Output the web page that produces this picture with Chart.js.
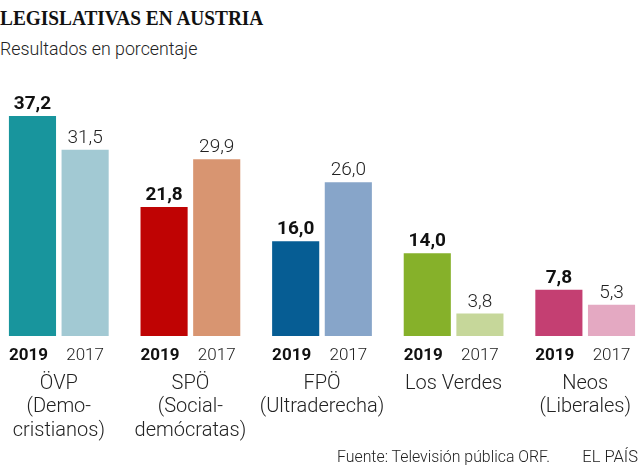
<!DOCTYPE html>
<html>
<head>
<meta charset="utf-8">
<script src="https://cdn.jsdelivr.net/npm/chart.js@4.4.1/dist/chart.umd.min.js"></script>
<style>
    body { margin: 0; background: #fff; width: 640px; height: 471px; overflow: hidden; position: relative; }
    .txt { position: absolute; white-space: nowrap; line-height: 1; color: #222; }
    #title { left: 0; top: 8px; font-family: "Liberation Serif", serif; font-weight: bold; font-size: 21px; color: #111; transform-origin: left top; }
    #subtitle { left: 0; top: 40px; font-family: Roboto, sans-serif; font-size: 17.8px; font-weight: 300; }
    #source { left: 337px; top: 449px; font-family: Roboto, sans-serif; font-size: 16px; font-weight: 300; transform-origin: left top; }
    #brand { right: 2px; top: 448.5px; font-family: Roboto, sans-serif; font-size: 16.5px; font-weight: 300; }
    #chart-wrap { position: absolute; left: -7px; top: 0; width: 658px; height: 471px; }
</style>
</head>
<body>
<div id="title" class="txt">LEGISLATIVAS EN AUSTRIA</div>
<div id="subtitle" class="txt">Resultados en porcentaje</div>
<div id="chart-wrap"><canvas id="bar-chart"></canvas></div>
<div id="source" class="txt">Fuente: Televisión pública ORF.</div>
<div id="brand" class="txt">EL PAÍS</div>

<script>
// Parties (category axis) and their label lines under the bars
const parties = ['ÖVP', 'SPÖ', 'FPÖ', 'Los Verdes', 'Neos'];
const partyLines = [
    ['ÖVP', '(Demo-', 'cristianos)'],
    ['SPÖ', '(Social-', 'demócratas)'],
    ['FPÖ', '(Ultraderecha)'],
    ['Los Verdes'],
    ['Neos', '(Liberales)']
];

// Vote share in percent
const results2019 = [37.2, 21.8, 16.0, 14.0, 7.8];
const results2017 = [31.5, 29.9, 26.0, 3.8, 5.3];

const colors2019 = ['#18959d', '#bf0303', '#065d94', '#86b12a', '#c43f72'];
const colors2017 = ['#a2c9d3', '#d89571', '#87a5c9', '#c6d79a', '#e4a9c2'];

const yearLabels = ['2019', '2017'];

function fmt(v) {
    return v.toFixed(1).replace('.', ',');
}

// Fit the condensed title to its width in the picture
const title = document.getElementById('title');
title.style.transform = 'scaleX(' + (263 / title.offsetWidth) + ')';
const source = document.getElementById('source');
source.style.transform = 'scaleX(' + (213 / source.offsetWidth) + ')';

// Draws value labels above bars, years and party names below
const labelPlugin = {
    id: 'labels',
    afterDatasetsDraw(chart) {
        const ctx = chart.ctx;
        const bottom = chart.chartArea.bottom;
        ctx.save();
        ctx.textBaseline = 'alphabetic';

        chart.data.datasets.forEach((ds, i) => {
            const meta = chart.getDatasetMeta(i);
            const bold = i === 0;
            meta.data.forEach((bar, j) => {
                ctx.textAlign = 'center';
                ctx.fillStyle = bold ? '#111' : '#222';
                ctx.font = (bold ? 'bold ' : '300 ') + '19px Roboto, sans-serif';
                ctx.fillText(fmt(ds.data[j]), bar.x, bar.y - 7);

                ctx.font = (bold ? 'bold ' : '300 ') + '17px Roboto, sans-serif';
                if (bold) {
                    ctx.textAlign = 'left';
                    ctx.fillText(yearLabels[i], bar.x - bar.width / 2, bottom + 23.5);
                } else {
                    ctx.fillText(yearLabels[i], bar.x, bottom + 23.5);
                }
            });
        });

        ctx.textAlign = 'center';
        ctx.fillStyle = '#222';
        ctx.font = '300 20px Roboto, sans-serif';
        partyLines.forEach((lines, j) => {
            const x = chart.scales.x.getPixelForValue(j);
            lines.forEach((line, k) => {
                ctx.fillText(line, x, 389 + k * 23.3);
            });
        });
        ctx.restore();
    }
};

const ctx = document.getElementById('bar-chart').getContext('2d');
const barChart = new Chart(ctx, {
    type: 'bar',
    data: {
        labels: parties,
        datasets: [{
            label: '2019',
            data: results2019,
            backgroundColor: colors2019,
            borderWidth: 0
        }, {
            label: '2017',
            data: results2017,
            backgroundColor: colors2017,
            borderWidth: 0
        }]
    },
    options: {
        responsive: true,
        maintainAspectRatio: false,
        animation: false,
        layout: {
            padding: { top: 99.4, bottom: 135, left: 0, right: 0 }
        },
        datasets: {
            bar: {
                categoryPercentage: 0.8,
                barPercentage: 0.895
            }
        },
        plugins: {
            legend: { display: false },
            tooltip: { enabled: false }
        },
        scales: {
            x: { display: false },
            y: { display: false, min: 0, max: 40 }
        }
    },
    plugins: [labelPlugin]
});
</script>
</body>
</html>
